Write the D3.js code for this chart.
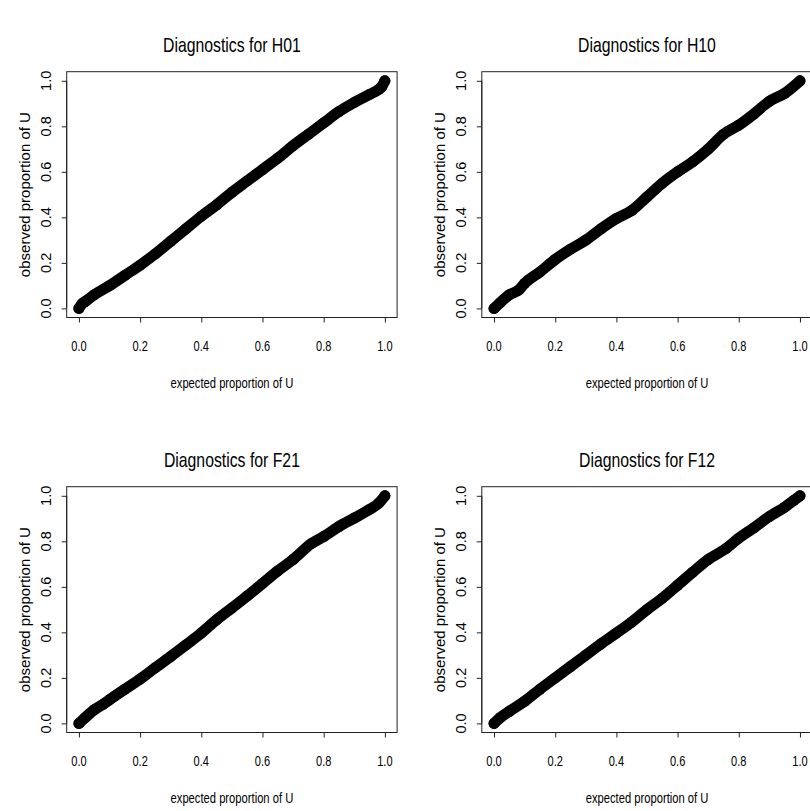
<!DOCTYPE html>
<html>
<head>
<meta charset="utf-8">
<script src="https://cdn.jsdelivr.net/npm/d3@7"></script>
<style>
  html, body { margin: 0; padding: 0; background: #fff; }
  svg { display: block; }
  text { font-family: "Liberation Sans", Arial, Helvetica, sans-serif; fill: #000; }
</style>
</head>
<body>
<svg id="chart" width="810" height="811"></svg>
<script>
// ---------- data ----------
const panelNames = ["H01", "H10", "F21", "F12"];
const tickValues = [0, 0.2, 0.4, 0.6, 0.8, 1.0];
const tickLabels = ["0.0", "0.2", "0.4", "0.6", "0.8", "1.0"];
const xLabel = "expected proportion of U";
const yLabel = "observed proportion of U";

const expH01 = [0, 0.01, 0.02, 0.05, 0.1, 0.15, 0.2, 0.25, 0.3, 0.35, 0.4, 0.45, 0.5, 0.55, 0.6, 0.65, 0.7, 0.75, 0.8, 0.85, 0.9, 0.95, 0.98, 0.99, 1.0];
const obsH01 = [0, 0.02, 0.03, 0.06, 0.1, 0.145, 0.19, 0.24, 0.295, 0.35, 0.405, 0.455, 0.51, 0.56, 0.61, 0.66, 0.715, 0.765, 0.815, 0.865, 0.905, 0.94, 0.962, 0.975, 1.0];

const expH10 = [0, 0.02, 0.05, 0.08, 0.1, 0.15, 0.2, 0.25, 0.3, 0.35, 0.4, 0.45, 0.5, 0.55, 0.6, 0.65, 0.7, 0.75, 0.8, 0.85, 0.9, 0.95, 1.0];
const obsH10 = [0, 0.025, 0.06, 0.08, 0.11, 0.16, 0.215, 0.26, 0.3, 0.35, 0.395, 0.43, 0.49, 0.55, 0.6, 0.645, 0.7, 0.765, 0.805, 0.855, 0.91, 0.945, 1.0];

const expF21 = [0, 0.02, 0.05, 0.08, 0.1, 0.15, 0.2, 0.25, 0.3, 0.35, 0.4, 0.45, 0.5, 0.55, 0.6, 0.65, 0.7, 0.76, 0.8, 0.85, 0.9, 0.95, 0.98, 1.0];
const obsF21 = [0, 0.025, 0.06, 0.085, 0.104, 0.15, 0.195, 0.245, 0.294, 0.345, 0.397, 0.455, 0.507, 0.56, 0.615, 0.67, 0.72, 0.79, 0.821, 0.865, 0.902, 0.94, 0.968, 1.0];

const expF12 = [0, 0.02, 0.05, 0.1, 0.15, 0.2, 0.25, 0.3, 0.35, 0.4, 0.45, 0.5, 0.55, 0.6, 0.65, 0.7, 0.76, 0.8, 0.85, 0.9, 0.95, 0.98, 1.0];
const obsF12 = [0, 0.025, 0.053, 0.097, 0.15, 0.2, 0.25, 0.3, 0.35, 0.397, 0.445, 0.5, 0.55, 0.607, 0.665, 0.72, 0.77, 0.814, 0.86, 0.909, 0.95, 0.98, 1.0];

const seriesX = [expH01, expH10, expF21, expF12];
const seriesY = [obsH01, obsH10, obsF21, obsF12];

// ---------- layout ----------
const svg = d3.select("#chart");
svg.append("rect").attr("width", 810).attr("height", 811).attr("fill", "#fff");

const boxW = 330.4, boxH = 245.8;
const colLeft = [66.7, 481.8];
const rowTop = [71.7, 486.7];
const hScale = 0.79; // narrow horizontal text

panelNames.forEach((name, i) => {
  const col = i % 2, row = Math.floor(i / 2);
  const left = colLeft[col], top = rowTop[row];

  // R-style 4% padding
  const x = d3.scaleLinear().domain([-0.04, 1.04]).range([left, left + boxW]);
  const y = d3.scaleLinear().domain([-0.04, 1.04]).range([top + boxH, top]);

  const g = svg.append("g");

  // plot box
  g.append("rect")
    .attr("x", left).attr("y", top)
    .attr("width", boxW).attr("height", boxH)
    .attr("fill", "none").attr("stroke", "#222").attr("stroke-width", 1);

  // x axis (ticks only, below box)
  const xAxis = d3.axisBottom(x).tickValues(tickValues).tickSize(5).tickFormat("");
  const gx = g.append("g").attr("transform", `translate(0,${top + boxH})`).call(xAxis);
  gx.select(".domain").attr("d", `M${x(0)},0H${x(1)}`).attr("stroke", "#222");
  gx.selectAll(".tick line").attr("stroke", "#222");

  // y axis
  const yAxis = d3.axisLeft(y).tickValues(tickValues).tickSize(5).tickFormat("");
  const gy = g.append("g").attr("transform", `translate(${left},0)`).call(yAxis);
  gy.select(".domain").attr("d", `M0,${y(0)}V${y(1)}`).attr("stroke", "#222");
  gy.selectAll(".tick line").attr("stroke", "#222");

  // x tick labels (narrow, horizontal)
  tickValues.forEach((v, k) => {
    g.append("text")
      .attr("transform", `translate(${x(v)},${top + boxH + 33.5}) scale(${hScale},1)`)
      .attr("text-anchor", "middle")
      .attr("font-size", 14)
      .text(tickLabels[k]);
  });

  // y tick labels (rotated)
  tickValues.forEach((v, k) => {
    g.append("text")
      .attr("transform", `translate(${left - 15.5},${y(v)}) rotate(-90)`)
      .attr("text-anchor", "middle")
      .attr("font-size", 14.5)
      .text(tickLabels[k]);
  });

  // axis titles
  g.append("text")
    .attr("transform", `translate(${left + boxW / 2},${top + boxH + 70}) scale(${hScale},1)`)
    .attr("text-anchor", "middle")
    .attr("font-size", 14.2)
    .text(xLabel);

  g.append("text")
    .attr("transform", `translate(${left - 37},${top + boxH / 2}) rotate(-90)`)
    .attr("text-anchor", "middle")
    .attr("font-size", 15)
    .text(yLabel);

  // main title
  g.append("text")
    .attr("transform", `translate(${left + boxW / 2},${top - 20}) scale(${hScale},1)`)
    .attr("text-anchor", "middle")
    .attr("font-size", 20)
    .text("Diagnostics for " + name);

  // data band + points
  const pts = seriesX[i].map((v, k) => [v, seriesY[i][k]]);
  const line = d3.line().x(d => x(d[0])).y(d => y(d[1])).curve(d3.curveMonotoneX);
  g.append("path")
    .attr("d", line(pts))
    .attr("fill", "none")
    .attr("stroke", "#000")
    .attr("stroke-width", 11)
    .attr("stroke-linecap", "round")
    .attr("stroke-linejoin", "round");
  g.selectAll("circle.pt").data(pts).enter().append("circle")
    .attr("class", "pt")
    .attr("cx", d => x(d[0]))
    .attr("cy", d => y(d[1]))
    .attr("r", 5.5)
    .attr("fill", "#000");
});
</script>
</body>
</html>
